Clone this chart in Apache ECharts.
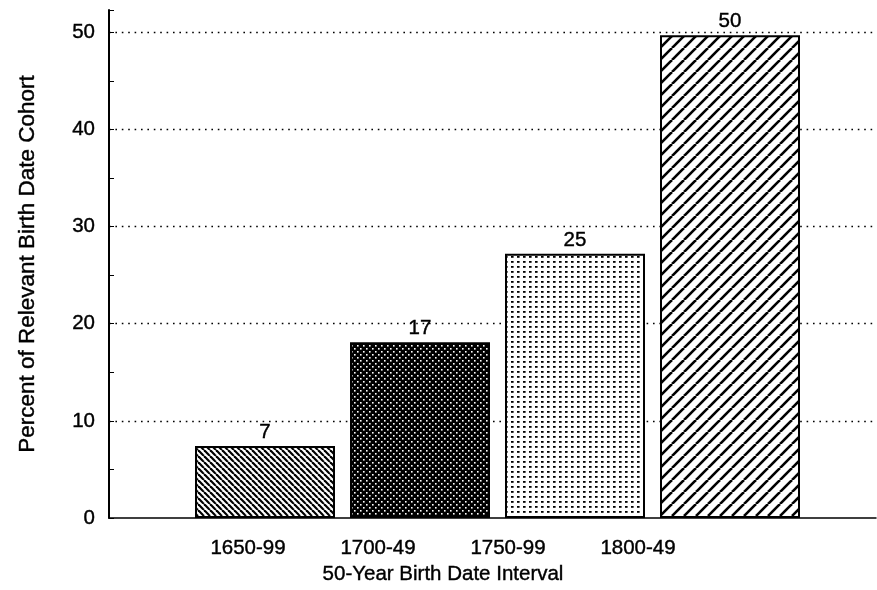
<!DOCTYPE html>
<html>
<head>
<meta charset="utf-8">
<script src="https://cdn.jsdelivr.net/npm/echarts@6/dist/echarts.min.js"></script>
<style>html,body{margin:0;padding:0;background:#fff}#c{width:877px;height:590px}</style>
</head>
<body>
<div id="c"></div>
<script>
// ---- data ----
const categories = ['1650-99', '1700-49', '1750-99', '1800-49'];
const barValues = [7.4, 18.1, 27.2, 49.7];
const valueLabels = ['7', '17', '25', '50'];
const yMin = 0, yMax = 52.3, yInterval = 10;
const xTitle = '50-Year Birth Date Interval';
const yTitle = 'Percent of Relevant Birth Date Cohort';

// ---- patterns ----
function tile(w, h, draw) {
  const c = document.createElement('canvas');
  c.width = w; c.height = h;
  const g = c.getContext('2d');
  draw(g, w, h);
  return { image: c, repeat: 'repeat' };
}
const patBackslash = tile(6, 6, (g, w, h) => {
  g.fillStyle = '#fff'; g.fillRect(0, 0, w, h);
  g.strokeStyle = '#000'; g.lineWidth = 2.2;
  for (const k of [-w, 0, w]) { g.beginPath(); g.moveTo(k, 0); g.lineTo(k + w, h); g.stroke(); }
});
const patDarkDots = tile(6, 6, (g, w, h) => {
  g.fillStyle = '#000'; g.fillRect(0, 0, w, h);
  g.fillStyle = '#fff';
  g.fillRect(0, 0, 1.6, 1.6); g.fillRect(3, 3, 1.6, 1.6);
});
const patLightDots = tile(6, 5, (g, w, h) => {
  g.fillStyle = '#fff'; g.fillRect(0, 0, w, h);
  g.fillStyle = '#000'; g.fillRect(1, 1, 2.6, 1.8);
});
const patSlash = tile(12, 12, (g, w, h) => {
  g.fillStyle = '#fff'; g.fillRect(0, 0, w, h);
  g.strokeStyle = '#000'; g.lineWidth = 2.6;
  for (const k of [-w, 0, w]) { g.beginPath(); g.moveTo(k, h); g.lineTo(k + w, 0); g.stroke(); }
});
const patterns = [patBackslash, patDarkDots, patLightDots, patSlash];

const FONT = "'Liberation Sans', Arial, sans-serif";
const TOP = 10, BOTTOM = 72;
const txt = { fontSize: 20.5, color: '#000', fontFamily: FONT, textBorderColor: '#000', textBorderWidth: 0.4 };

const chart = echarts.init(document.getElementById('c'), null, { renderer: 'canvas' });
chart.setOption({
  backgroundColor: '#fff',
  animation: false,
  textStyle: { fontFamily: FONT, color: '#000' },
  grid: [
    { left: 109, right: 1, top: TOP, bottom: BOTTOM },
    { left: 187.5, width: 620, top: TOP, bottom: BOTTOM },
    { left: 183, width: 520, top: TOP, bottom: BOTTOM }
  ],
  xAxis: [
    { gridIndex: 0, type: 'value', min: 0, max: 1,
      axisLine: { show: true, onZero: false, lineStyle: { color: '#000', width: 1.5 } },
      axisTick: { show: false }, axisLabel: { show: false }, splitLine: { show: false } },
    { gridIndex: 1, type: 'category', data: categories,
      axisLine: { show: false }, axisTick: { show: false }, axisLabel: { show: false } },
    { gridIndex: 2, type: 'category', data: categories,
      axisLine: { show: false }, axisTick: { show: false },
      axisLabel: Object.assign({ show: true, margin: 24 }, txt),
      name: xTitle, nameLocation: 'middle', nameGap: 48,
      nameTextStyle: Object.assign({}, txt) }
  ],
  yAxis: [
    { gridIndex: 0, type: 'value', min: yMin, max: yMax, interval: yInterval,
      axisLine: { show: true, lineStyle: { color: '#000', width: 2 } },
      axisTick: { show: true, inside: true, length: 5, lineStyle: { color: '#000' } },
      minorTick: { show: true, splitNumber: 2, length: 5, lineStyle: { color: '#000' } },
      axisLabel: Object.assign({ margin: 14, showMaxLabel: false }, txt),
      splitLine: { show: true, showMinLine: false, showMaxLine: false,
        lineStyle: { color: '#000', width: 1.4, type: [1.6, 4.8] } },
      name: yTitle, nameLocation: 'middle', nameRotate: 90, nameGap: 70,
      nameTextStyle: Object.assign({}, txt, { fontSize: 22.5 }) },
    { gridIndex: 1, type: 'value', min: yMin, max: yMax, interval: yInterval, show: false },
    { gridIndex: 2, type: 'value', min: yMin, max: yMax, interval: yInterval, show: false }
  ],
  series: [{
    type: 'bar', xAxisIndex: 1, yAxisIndex: 1,
    barWidth: 140,
    data: barValues.map((v, i) => ({
      value: v,
      itemStyle: { color: patterns[i], borderColor: '#000', borderWidth: 2 }
    })),
    label: Object.assign({ show: true, position: 'top', distance: 3,
      formatter: p => valueLabels[p.dataIndex] }, txt)
  }]
});
</script>
</body>
</html>
